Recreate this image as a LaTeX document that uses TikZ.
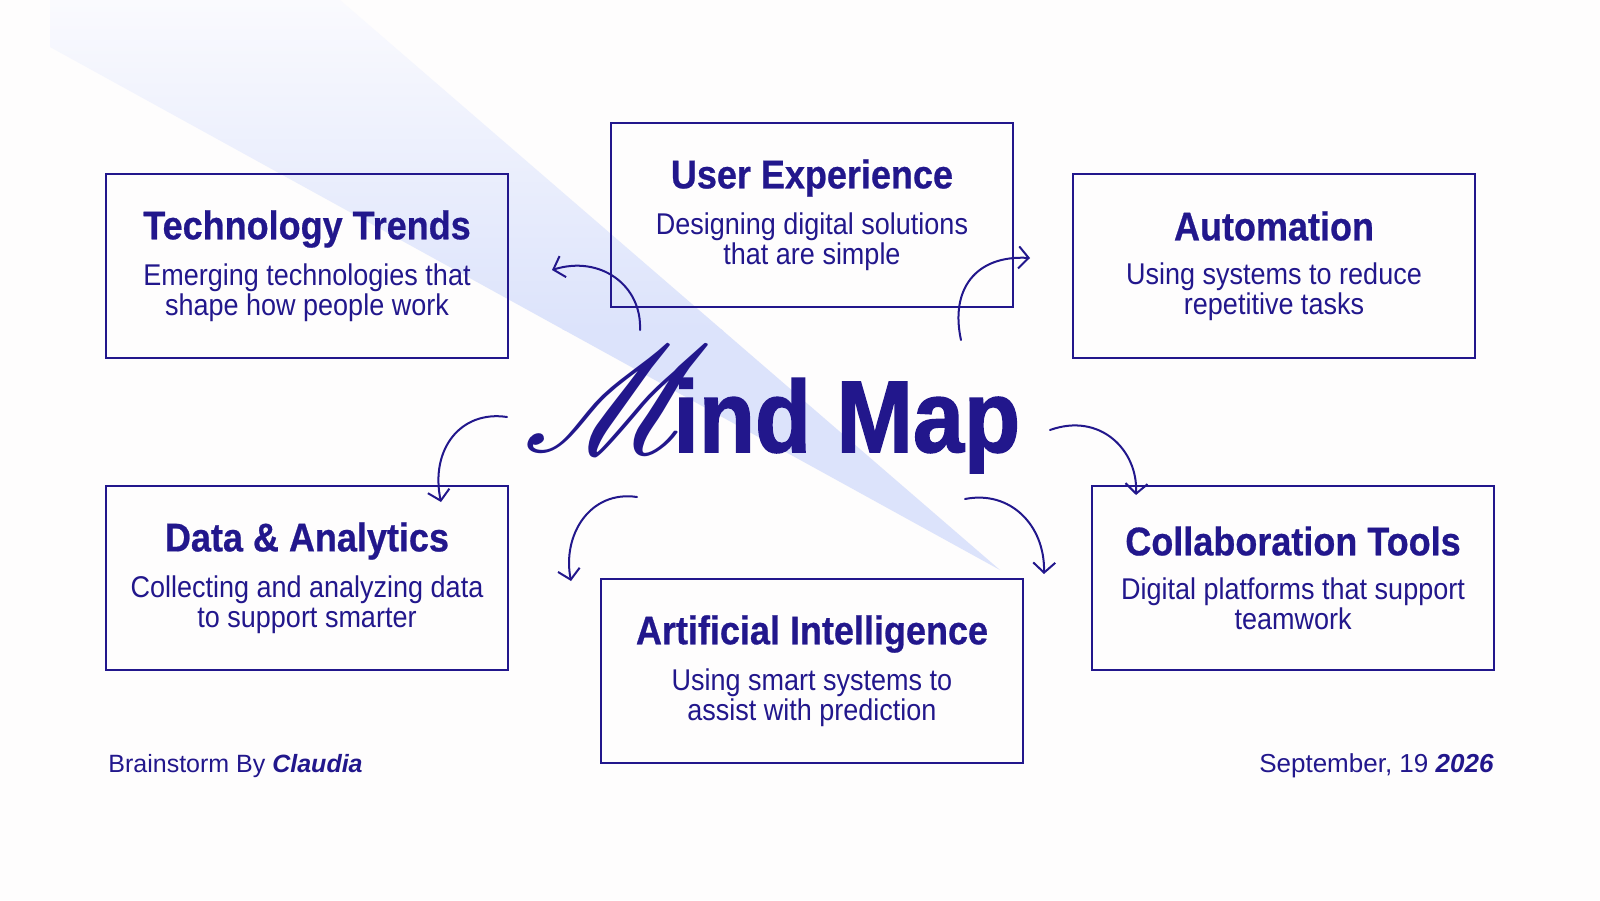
\documentclass[tikz,border=0pt]{standalone}
\usepackage{fontspec}
\usepackage{graphicx}
\usepackage{mathrsfs}
\usetikzlibrary{arrows.meta}
\setmainfont{Liberation Sans}[FakeStretch=0.9, BoldFeatures={FakeBold=0.6}]
\newfontfamily\footfont{Liberation Sans}
\newfontfamily\titlefamily{Liberation Sans}[FakeStretch=0.9, BoldFeatures={FakeBold=1.5}]
\newcommand{\headfont}{\fontsize{20}{20}\selectfont\bfseries}
\newcommand{\titlefont}{\titlefamily\fontsize{51}{51}\selectfont\bfseries}
\definecolor{ink}{HTML}{22178C}
\definecolor{paper}{HTML}{FEFDFD}
\definecolor{beamlight}{HTML}{FBFBFE}
\definecolor{beamdark}{HTML}{DCE3FB}

\begin{document}
\begin{tikzpicture}[x=0.5pt,y=-0.5pt]
\tikzstyle{every node}=[text=ink]
\tikzstyle{topic}=[draw=ink, line width=0.75pt, minimum width=201pt, minimum height=92pt, inner sep=0pt, align=center, font=\fontsize{15}{15}\selectfont]
\tikzstyle{link}=[draw=ink, line width=1pt, line cap=round, -{Straight Barb[length=5pt,width=11pt]}]

\useasboundingbox[fill=paper] (0,0) rectangle (1600,900);

% light beam behind the title
\begin{scope}
  \clip (50,0) -- (340,0) -- (1000,570) -- (50,47) -- cycle;
  \shade[top color=beamlight, bottom color=beamdark] (0,-10) rectangle (1600,330);
  \fill[beamdark] (0,329) rectangle (1600,600);
\end{scope}

\node[topic] (nt) at (307,266)
  {{\headfont Technology Trends}\\[7pt]Emerging technologies that\\shape how people work};
\node[topic] (nu) at (812,215)
  {{\headfont User Experience}\\[7pt]Designing digital solutions\\that are simple};
\node[topic] (na) at (1274,266)
  {{\headfont Automation}\\[7pt]Using systems to reduce\\repetitive tasks};
\node[topic] (nd) at (307,578)
  {{\headfont Data \& Analytics}\\[7pt]Collecting and analyzing data\\to support smarter};
\node[topic, minimum width=211pt] (ni) at (812,671)
  {{\headfont Artificial Intelligence}\\[7pt]Using smart systems to\\assist with prediction};
\node[topic] (nc) at (1293,578)
  {{\headfont Collaboration Tools}\\[7pt]Digital platforms that support\\teamwork};

% title
\node[inner sep=0pt, anchor=base west, font=\titlefont] (nm) at (673,452) {ind Map};
\node[inner sep=0pt, anchor=base east] (ns) at (712,452) {\scalebox{7.6}{$\mathscr{M}$}};

% arrow ends
\coordinate (a1) at (640,330); \coordinate (b1) at (552,270);
\coordinate (a2) at (961,340); \coordinate (b2) at (1030,258);
\coordinate (a3) at (507,417); \coordinate (b3) at (441,502);
\coordinate (a4) at (1050,430); \coordinate (b4) at (1136,495);
\coordinate (a5) at (637,497); \coordinate (b5) at (571,581);
\coordinate (a6) at (965,499); \coordinate (b6) at (1044,574);

\draw[link] (a1) .. controls (642,285) and (600,255) .. (b1);
\draw[link] (a2) .. controls (950,290) and (975,255) .. (b2);
\draw[link] (a3) .. controls (460,410) and (430,450) .. (b3);
\draw[link] (a4) .. controls (1100,412) and (1138,450) .. (b4);
\draw[link] (a5) .. controls (590,490) and (562,535) .. (b5);
\draw[link] (a6) .. controls (1010,490) and (1045,525) .. (b6);

% footer
\node[inner sep=0pt, anchor=base west, font=\footfont\fontsize{12.5}{15}\selectfont] (nb) at (108,772)
  {Brainstorm By \textbf{\textit{Claudia}}};
\node[inner sep=0pt, anchor=base east, font=\footfont\fontsize{13}{15}\selectfont] (ne) at (1494,772)
  {September, 19 \textbf{\textit{2026}}};
\end{tikzpicture}
\end{document}
